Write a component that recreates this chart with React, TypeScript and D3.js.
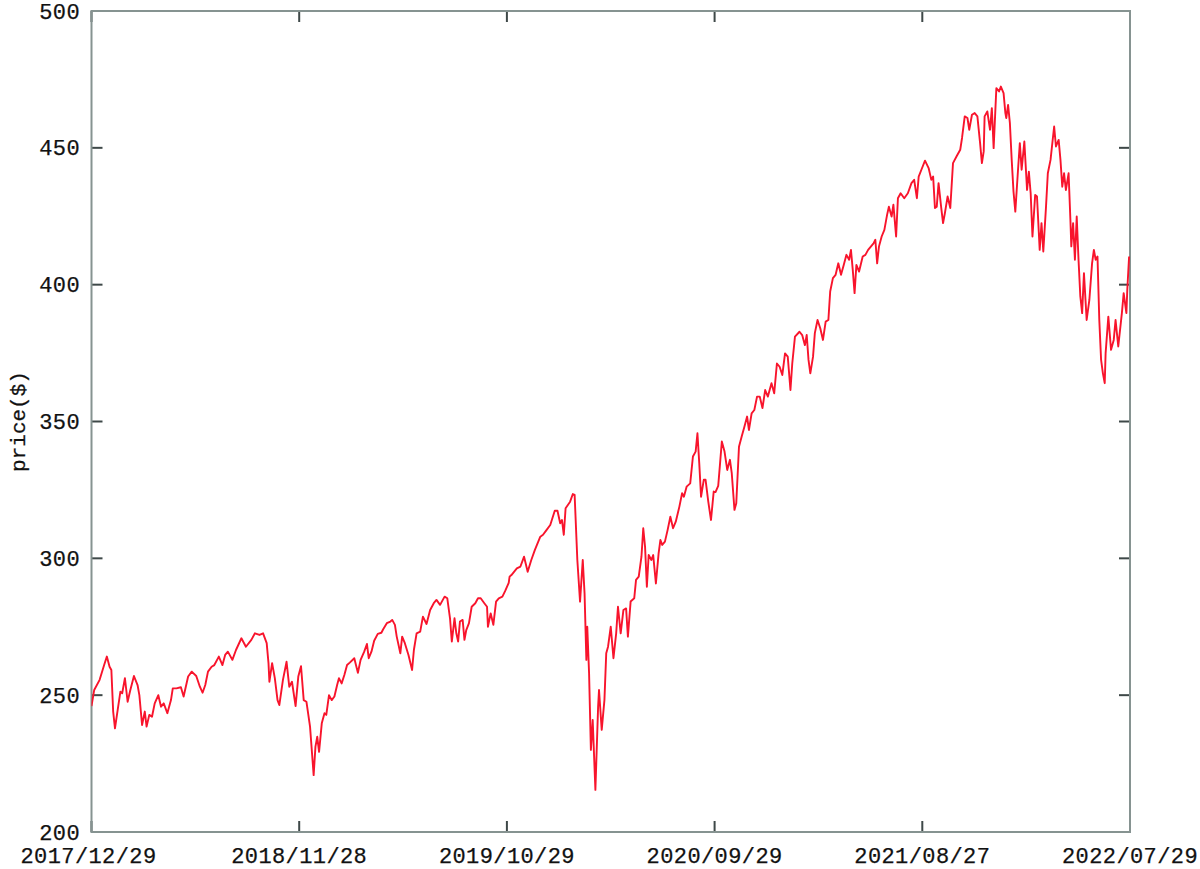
import React from "react";
import * as d3 from "d3";

const days: number[] = [
  0, 3, 9, 14, 17, 20, 22, 24, 26, 29, 32, 34, 37, 40, 43, 47, 51, 53, 56, 59, 61, 64, 67, 70, 74, 77, 80, 84, 88, 90,
  94, 99, 102, 107, 111, 116, 120, 123, 126, 129, 133, 136, 141, 145, 148, 151, 156, 160, 166, 171, 177, 181, 186, 190,
  194, 196, 197, 200, 203, 206, 208, 212, 216, 219, 222, 226, 229, 232, 235, 238, 242, 246, 248, 250, 252, 255, 258,
  260, 263, 266, 269, 272, 274, 277, 280, 283, 286, 291, 295, 298, 302, 305, 307, 310, 313, 317, 321, 323, 327, 331,
  333, 336, 338, 342, 344, 347, 351, 355, 357, 360, 364, 367, 371, 375, 379, 382, 386, 391, 394, 397, 399, 402, 404,
  406, 408, 411, 413, 415, 418, 421, 425, 428, 431, 435, 438, 439, 442, 445, 448, 451, 455, 458, 462, 463, 465, 471,
  475, 479, 483, 487, 491, 497, 500, 504, 508, 513, 516, 519, 521, 523, 525, 530, 533, 535, 538, 541, 544, 546, 548,
  549, 551, 553, 555, 558, 561, 562, 565, 568, 570, 572, 575, 578, 581, 583, 586, 589, 592, 594, 597, 601, 603, 606,
  609, 611, 613, 615, 617, 620, 622, 625, 628, 630, 632, 635, 638, 641, 644, 647, 651, 654, 656, 659, 663, 666, 669,
  671, 673, 675, 678, 680, 683, 686, 689, 691, 694, 696, 698, 701, 704, 707, 709, 712, 714, 717, 720, 723, 726, 728,
  731, 734, 737, 740, 743, 746, 749, 753, 756, 759, 762, 765, 768, 771, 774, 776, 779, 784, 787, 790, 792, 794, 796,
  799, 801, 804, 807, 810, 813, 816, 818, 821, 824, 827, 830, 833, 836, 839, 841, 843, 845, 847, 850, 854, 857, 860,
  863, 866, 868, 870, 872, 875, 878, 881, 883, 886, 888, 891, 893, 896, 900, 904, 908, 911, 914, 916, 919, 923, 927,
  930, 932, 934, 936, 938, 941, 943, 945, 948, 951, 954, 958, 962, 964, 967, 970, 972, 975, 978, 981, 984, 986, 988,
  989, 992, 995, 997, 999, 1001, 1002, 1005, 1007, 1010, 1012, 1013, 1015, 1017, 1019, 1021, 1023, 1026, 1028, 1030,
  1033, 1036, 1038, 1040, 1042, 1045, 1047, 1050, 1052, 1054, 1057, 1059, 1062, 1064, 1066, 1068, 1071, 1073, 1075,
  1077, 1079, 1082, 1084, 1085, 1087, 1089, 1091, 1093, 1095, 1097, 1099, 1102, 1105, 1108, 1110, 1112, 1114, 1116,
  1118, 1120, 1122, 1123, 1126, 1129, 1132, 1134, 1137, 1141, 1143, 1146, 1147, 1149,
];

const prices: number[] = [
  246, 251.9, 255.6, 261, 264.1, 260.4, 259.2, 244, 237.9, 244.6, 251.3, 250.7, 256.2, 247.6, 251.9, 257, 253.7, 250,
  239.1, 244, 238.5, 242.8, 242.1, 247, 250, 245.8, 247, 243.4, 248.2, 252.5, 252.5, 252.9, 249.5, 256.8, 258.6, 257,
  253.1, 250.9, 253.7, 258.6, 260.4, 261, 264.1, 261, 264.7, 265.9, 262.9, 266.5, 270.8, 267.7, 270.2, 272.6, 272,
  272.6, 269, 261.7, 254.9, 261.7, 256.2, 248.2, 246.4, 255.6, 262.2, 253.1, 254.9, 246, 256.8, 260.6, 248.2, 247.6,
  238.5, 220.8, 231.2, 234.8, 229.3, 239.7, 243.4, 242.8, 250, 248.2, 249.5, 253.7, 256.2, 254.3, 257.4, 261, 261.9,
  263.5, 258.2, 262.9, 265.9, 268.7, 263.5, 265.9, 269.9, 272.4, 272.8, 274.1, 276.3, 276.9, 277.5, 275.7, 271.4,
  265.3, 271.4, 269, 264.7, 259.2, 266.5, 272.6, 273.2, 278.7, 276, 281.1, 283.6, 284.8, 283, 286, 285.4, 278.1, 269.6,
  278.1, 272.6, 269.6, 276.9, 277.5, 270.2, 273.8, 276.3, 282.3, 283.6, 285.4, 285.4, 283.6, 282.3, 275, 279.9, 275.7,
  284.2, 285.4, 286, 288, 291, 293.3, 293.9, 296.3, 297, 300.6, 295.1, 299.4, 303.1, 307.9, 308.6, 310.4, 312.2,
  317.4, 317.4, 312.8, 314, 308.6, 318.3, 320.7, 323.5, 323.2, 299.4, 284.2, 299.4, 287.2, 262.9, 275, 258, 230, 240.9,
  215.4, 245.8, 251.9, 237.3, 248.2, 265.3, 267.7, 275, 263.5, 272.6, 282.3, 272.6, 281.1, 281.7, 271.4, 284.2, 285.4,
  292.1, 293.3, 300.6, 311, 304.2, 289.6, 301.2, 299.4, 301.2, 290.8, 301.8, 306.7, 304.9, 306.1, 310.4, 315.2, 311,
  313.4, 318.9, 323.8, 322.5, 326.2, 327.4, 337.2, 339, 345.7, 334.8, 322.5, 328.7, 328.7, 320.7, 314, 324.4, 324.2,
  326.5, 334.5, 342.7, 339, 332.3, 336, 331.1, 317.7, 320.1, 340.8, 344.5, 348.1, 351.8, 346.9, 353, 354.2, 359.1,
  359.1, 354.9, 361.5, 359.1, 364, 360.3, 371.2, 370, 367, 374.9, 373.7, 361.5, 371.2, 381, 382.8, 381.6, 377.9, 381.6,
  372.5, 367.6, 373.7, 382.3, 387.1, 384.1, 379.8, 386.5, 387.1, 397.5, 402.4, 403.6, 407.8, 403.6, 407.2, 410.9,
  409.1, 412.7, 405.4, 396.9, 407.2, 404.8, 410.3, 410.9, 412.7, 413.9, 415.1, 416.4, 407.8, 413.9, 417.6, 420, 425.5,
  428.5, 424.9, 429.2, 417.6, 431.6, 433.4, 431.6, 433.4, 437.1, 438.3, 431.6, 439.5, 442, 445.3, 442.6, 438.3, 439.5,
  428, 428.5, 437.1, 428, 422.5, 426.1, 432.2, 428, 444.4, 446.9, 449.3, 453.6, 461.5, 460.9, 456.6, 462.1, 462.7,
  461.5, 451.7, 444.4, 448.7, 461.5, 463.3, 456.6, 464.5, 449.9, 464.5, 471.8, 470.6, 472.4, 470, 462.7, 460.9, 465.7,
  459, 445.6, 434, 426.7, 442, 451.7, 442, 452.3, 434.6, 441.3, 433.4, 417.6, 432.8, 432.2, 412.7, 422.5, 412.1, 428.5,
  440.7, 445.6, 451.7, 457.8, 450.5, 452.9, 445.6, 435.8, 440.7, 434.6, 440.7, 423.7, 414, 422.5, 409.1, 424.9, 409.1,
  395.7, 389.6, 404.2, 387.1, 394.4, 407.8, 412.7, 409.1, 410.3, 387.1, 372.5, 367.6, 364, 375, 388.3, 376.2, 379.8,
  387.1, 377.4, 389.6, 396.9, 389.6, 398.1, 410.3,
];

const yTicks: number[] = [200, 250, 300, 350, 400, 450, 500];
const xTickDays: number[] = [0, 230, 460, 690, 920, 1150];
const xTickLabels: string[] = ["2017/12/29", "2018/11/28", "2019/10/29", "2020/09/29", "2021/08/27", "2022/07/29"];

const W = 1200;
const H = 869;
const L = 91.5;
const R = 1130;
const T = 11;
const B = 832;

export default function App() {
  const x = d3.scaleLinear().domain([0, 1150]).range([L, R]);
  const y = d3.scaleLinear().domain([200, 500]).range([B, T]);
  const pts: [number, number][] = days.map((d, i) => [d, prices[i]]);
  const line = d3
    .line<[number, number]>()
    .x((p) => x(p[0]))
    .y((p) => y(p[1]));
  const font = "'Liberation Mono', 'DejaVu Sans Mono', monospace";
  const tickLen = 11;
  const tickColor = "#3e4848";
  const frameColor = "#869391";
  const textProps = {
    fontFamily: font,
    fontSize: 22,
    letterSpacing: 0.4,
    fill: "#111",
    stroke: "#111",
    strokeWidth: 0.25,
  };
  return (
    <svg
      width={W}
      height={H}
      style={{ position: "absolute", left: 0, top: 0, background: "#fff" }}
    >
      <defs>
        <clipPath id="plot">
          <rect x={L} y={T} width={R - L} height={B - T} />
        </clipPath>
      </defs>
      <rect x={0} y={0} width={W} height={H} fill="#fff" />
      {yTicks.map((v) => (
        <g key={"y" + v}>
          <line x1={L} x2={L + tickLen} y1={y(v)} y2={y(v)} stroke={tickColor} strokeWidth={2} />
          <line x1={R} x2={R - tickLen} y1={y(v)} y2={y(v)} stroke={tickColor} strokeWidth={2} />
          <text x={80} y={y(v) + 7.5} textAnchor="end" {...textProps}>
            {v}
          </text>
        </g>
      ))}
      {xTickDays.map((d, i) => (
        <g key={"x" + d}>
          <line x1={x(d)} x2={x(d)} y1={B} y2={B - tickLen} stroke={tickColor} strokeWidth={2} />
          <line x1={x(d)} x2={x(d)} y1={T} y2={T + tickLen} stroke={tickColor} strokeWidth={2} />
          <text x={x(d) - (i === 0 ? 3 : 0)} y={862.5} textAnchor="middle" {...textProps}>
            {xTickLabels[i]}
          </text>
        </g>
      ))}
      <rect x={L} y={T} width={R - L} height={B - T} fill="none" stroke={frameColor} strokeWidth={2} />
      <path
        d={line(pts) || ""}
        fill="none"
        stroke="#f8142c"
        strokeWidth={1.9}
        strokeLinejoin="round"
        clipPath="url(#plot)"
      />
      <text
        transform={`translate(25, ${(T + B) / 2}) rotate(-90)`}
        textAnchor="middle"
        {...textProps}
        fontSize={21}
        letterSpacing={0}
      >
        price($)
      </text>
    </svg>
  );
}
